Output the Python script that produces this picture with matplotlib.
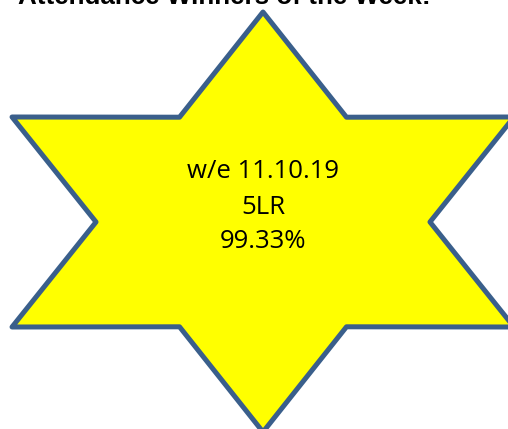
import numpy as np
import matplotlib
matplotlib.use("Agg")
import matplotlib.pyplot as plt
from matplotlib.patches import Polygon

title = "Attendance Winners of the Week!"
lines = ["w/e 11.10.19", "5LR", "99.33%"]

W, H = 508, 429
fig = plt.figure(figsize=(W / 100, H / 100), dpi=100)
ax = fig.add_axes([0, 0, 1, 1])
ax.set_xlim(0, W)
ax.set_ylim(H, 0)
ax.axis("off")

# hexagram geometry
cx, cy = 263, 222
R_out, R_in = 210, 121
sx = 1.38
angles = np.deg2rad(np.arange(90, 450, 30))
radii = np.where(np.arange(12) % 2 == 0, R_out, R_in)
xs = cx + sx * radii * np.cos(angles)
ys = cy - radii * np.sin(angles)
star = Polygon(np.column_stack([xs, ys]), closed=True, facecolor="#FFFF00",
               edgecolor="#3A5F8B", linewidth=3.6, joinstyle="round")
ax.add_patch(star)

ax.text(18, 3.5, title, fontsize=18.7, fontweight="bold", family="Liberation Sans",
        ha="left", va="baseline", color="black")

ys_text = [172, 207, 241]
for t, y in zip(lines, ys_text):
    ax.text(263, y, t, fontsize=18.5, family="Open Sans", ha="center", va="center",
            color="black")

fig.savefig("out.png", dpi=100)
